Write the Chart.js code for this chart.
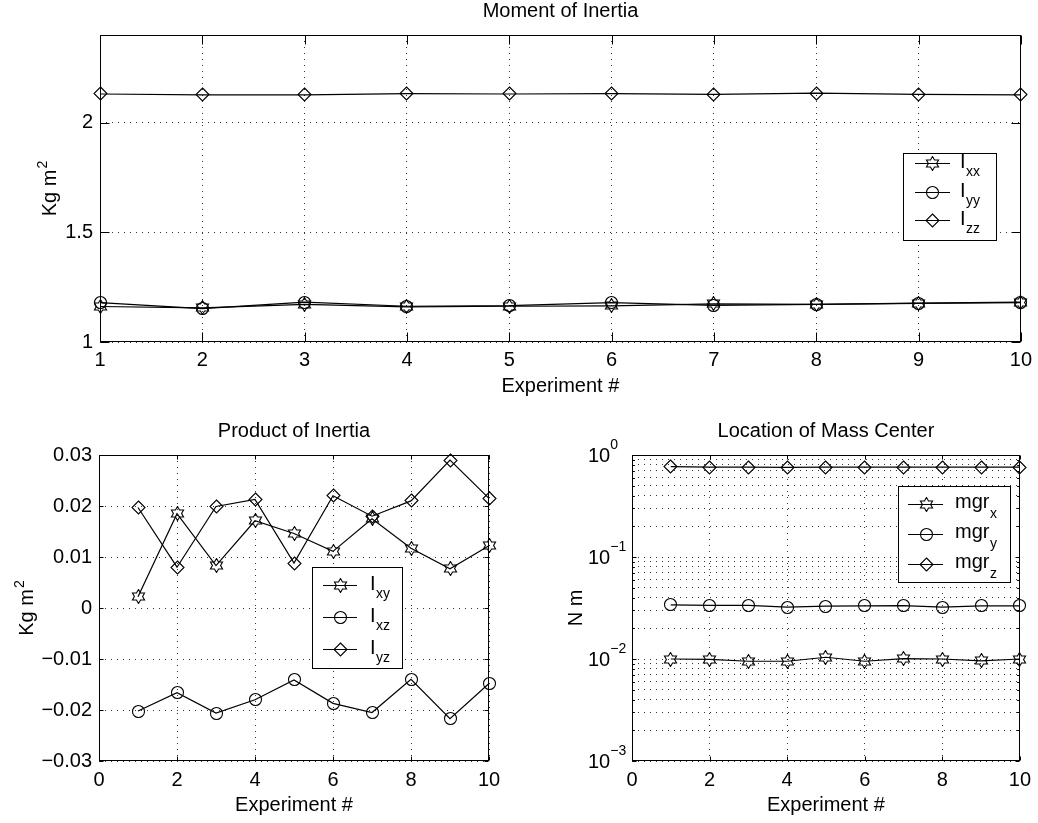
<!DOCTYPE html>
<html>
<head>
<meta charset="utf-8">
<script src="https://cdn.jsdelivr.net/npm/chart.js@4.4.1/dist/chart.umd.min.js"></script>
<style>
html, body { margin: 0; padding: 0; background: #fff; }
#wrap { position: relative; width: 1038px; height: 823px; }
canvas { position: absolute; left: 0; top: 0; }
</style>
</head>
<body>
<div id="wrap">
  <canvas id="inertia" width="1038" height="823"></canvas>
  <canvas id="product" width="1038" height="823"></canvas>
  <canvas id="mass" width="1038" height="823"></canvas>
</div>
<script>
// experiment numbers
const experiments = [1, 2, 3, 4, 5, 6, 7, 8, 9, 10];

// moment of inertia (Kg m^2)
const Ixx = [1.162, 1.156, 1.172, 1.160, 1.163, 1.165, 1.174, 1.172, 1.176, 1.180];
const Iyy = [1.180, 1.152, 1.182, 1.163, 1.166, 1.180, 1.167, 1.172, 1.177, 1.182];
const Izz = [2.131, 2.127, 2.127, 2.133, 2.131, 2.133, 2.129, 2.135, 2.129, 2.127];

// product of inertia (Kg m^2)
const Ixy = [0.0022, 0.0185, 0.0083, 0.0171, 0.0146, 0.0111, 0.0175, 0.0117, 0.0077, 0.0122];
const Ixz = [-0.0202, -0.0166, -0.0206, -0.0180, -0.0141, -0.0187, -0.0205, -0.0140, -0.0217, -0.0148];
const Iyz = [0.0197, 0.0080, 0.0199, 0.0213, 0.0088, 0.0220, 0.0180, 0.0210, 0.0290, 0.0215];

// location of mass center (N m)
const mgrx = [0.0100, 0.0099, 0.0095, 0.0095, 0.0104, 0.0095, 0.0101, 0.0100, 0.0096, 0.0100];
const mgry = [0.0340, 0.0335, 0.0335, 0.0322, 0.0330, 0.0332, 0.0333, 0.0322, 0.0332, 0.0332];
const mgrz = [0.770, 0.760, 0.760, 0.755, 0.760, 0.762, 0.760, 0.762, 0.760, 0.760];

// tick values
const inertiaXTicks = [1, 2, 3, 4, 5, 6, 7, 8, 9, 10];
const inertiaYTicks = [1, 1.5, 2];
const productXTicks = [0, 2, 4, 6, 8, 10];
const productYTicks = [-0.03, -0.02, -0.01, 0, 0.01, 0.02, 0.03];
const massXTicks = [0, 2, 4, 6, 8, 10];
const massDecades = [-3, -2, -1, 0];
const massMinor = [1, 2, 3, 4, 5, 6, 7, 8, 9];

const FAMILY = '"Liberation Sans", Arial, Helvetica, sans-serif';
const F_MAIN = '20px ' + FAMILY;
const F_SMALL = '14px ' + FAMILY;
const GRID = '#333';

// MATLAB-like hollow markers drawn into small canvases
function makeMarker(kind) {
    const c = document.createElement('canvas');
    c.width = 15; c.height = 15;
    const g = c.getContext('2d');
    g.strokeStyle = '#000';
    g.lineWidth = 1.1;
    g.beginPath();
    if (kind === 'hexagram') {
        for (let i = 0; i < 12; i++) {
            const r = i % 2 ? 4.1 : 7;
            const a = -Math.PI / 2 + i * Math.PI / 6;
            const px = 7.5 + r * Math.cos(a), py = 7.5 + r * Math.sin(a);
            if (i) g.lineTo(px, py); else g.moveTo(px, py);
        }
        g.closePath();
    } else if (kind === 'circle') {
        g.arc(7.5, 7.5, 6, 0, 2 * Math.PI);
    } else {
        g.moveTo(7.5, 1); g.lineTo(14, 7.5); g.lineTo(7.5, 14); g.lineTo(1, 7.5);
        g.closePath();
    }
    g.stroke();
    return c;
}
const HEX = makeMarker('hexagram');
const CIRC = makeMarker('circle');
const DIAM = makeMarker('diamond');

const series = (label, sub, values, marker) => ({
    label, sub,
    data: experiments.map((x, i) => ({ x, y: values[i] })),
    borderColor: '#000', backgroundColor: '#000', borderWidth: 1.2,
    pointStyle: marker, pointRadius: 6, pointHoverRadius: 6,
    clip: false, tension: 0, fill: false
});

const fixTicks = list => scale => { scale.ticks = list.map(v => ({ value: v })); };

function axis(type, min, max, tickList, fitSize, horizontal, callback, padding) {
    return {
        type, min, max,
        afterBuildTicks: fixTicks(tickList),
        afterFit: s => { if (horizontal) s.height = fitSize; else s.width = fitSize; },
        grid: { color: GRID, lineWidth: 1, drawTicks: false },
        border: { display: false, dash: [1, 5] },
        ticks: {
            autoSkip: false, maxRotation: 0, padding,
            color: '#000', font: { family: FAMILY, size: 20 },
            callback
        }
    };
}

function line(ctx, x1, y1, x2, y2) {
    ctx.beginPath(); ctx.moveTo(x1, y1); ctx.lineTo(x2, y2); ctx.stroke();
}

// rotated y label with optional superscript
function rotLabel(ctx, x, y, main, sup) {
    ctx.save();
    ctx.translate(x, y);
    ctx.rotate(-Math.PI / 2);
    ctx.textAlign = 'left'; ctx.textBaseline = 'alphabetic';
    ctx.font = F_MAIN; const w1 = ctx.measureText(main).width;
    ctx.font = F_SMALL; const w2 = sup ? ctx.measureText(sup).width + 1 : 0;
    const start = -(w1 + w2) / 2;
    ctx.font = F_MAIN; ctx.fillText(main, start, 0);
    if (sup) { ctx.font = F_SMALL; ctx.fillText(sup, start + w1 + 1, -9); }
    ctx.restore();
}

// box, inward ticks, titles, legend
function decor(cfg) {
    return {
        id: 'decor',
        beforeDatasetsDraw(chart) {
            // keep the marker images crisp
            chart.ctx.imageSmoothingEnabled = false;
        },
        afterDraw(chart) {
            const { ctx, chartArea: a } = chart;
            const xs = chart.scales.x, ys = chart.scales.y;
            ctx.save();
            ctx.imageSmoothingEnabled = false;
            ctx.strokeStyle = '#000'; ctx.fillStyle = '#000'; ctx.lineWidth = 1;
            const L = Math.round(a.left) + 0.5, R = Math.round(a.right) - 0.5;
            const T = Math.round(a.top) + 0.5, B = Math.round(a.bottom) - 0.5;
            ctx.strokeRect(L, T, R - L, B - T);

            xs.ticks.forEach(t => {
                const px = Math.round(xs.getPixelForValue(t.value)) + 0.5;
                line(ctx, px, B, px, B - cfg.tick);
                line(ctx, px, T, px, T + cfg.tick);
            });
            ys.ticks.forEach(t => {
                const py = Math.round(ys.getPixelForValue(t.value)) + 0.5;
                const major = cfg.log ? Math.abs(Math.log10(t.value) - Math.round(Math.log10(t.value))) < 1e-9 : true;
                const len = major ? cfg.tick : cfg.tick * 0.6;
                line(ctx, L, py, L + len, py);
                line(ctx, R, py, R - len, py);
            });

            const cx = (a.left + a.right) / 2;
            ctx.textAlign = 'center'; ctx.textBaseline = 'alphabetic';
            ctx.font = F_MAIN;
            ctx.fillText(cfg.title, cx, a.top - 18);
            ctx.fillText('Experiment #', cx, a.bottom + 50);
            rotLabel(ctx, cfg.yLabelX, (a.top + a.bottom) / 2, cfg.yLabel, cfg.yLabelSup);

            if (cfg.log) {
                ctx.textAlign = 'left';
                massDecades.forEach(e => {
                    const py = ys.getPixelForValue(Math.pow(10, e));
                    ctx.font = F_MAIN;
                    ctx.fillText('10', cfg.logLabelX, py + 7);
                    const w = ctx.measureText('10').width;
                    ctx.font = F_SMALL;
                    ctx.fillText(e === 0 ? '0' : '\u2212' + (-e), cfg.logLabelX + w, py - 6);
                });
            }

            // legend
            const lg = cfg.legend;
            ctx.fillStyle = '#fff';
            ctx.fillRect(lg.box[0], lg.box[1], lg.box[2] - lg.box[0], lg.box[3] - lg.box[1]);
            ctx.strokeRect(lg.box[0] + 0.5, lg.box[1] + 0.5, lg.box[2] - lg.box[0], lg.box[3] - lg.box[1]);
            ctx.fillStyle = '#000';
            ctx.textAlign = 'left';
            chart.data.datasets.forEach((ds, i) => {
                const ry = lg.rows[i] + 0.5;
                line(ctx, lg.line[0], ry, lg.line[1], ry);
                const m = ds.pointStyle;
                ctx.drawImage(m, Math.round(lg.marker - m.width / 2), Math.round(ry - m.height / 2));
                ctx.font = F_MAIN;
                ctx.fillText(ds.label, lg.text, lg.rows[i] + lg.mainDy);
                const w = ctx.measureText(ds.label).width;
                ctx.font = F_SMALL;
                ctx.fillText(ds.sub, lg.text + w + 0.5, lg.rows[i] + lg.subDy);
            });
            ctx.restore();
        }
    };
}

function makeChart(id, datasets, scales, padding, cfg) {
    return new Chart(document.getElementById(id), {
        type: 'line',
        data: { datasets },
        options: {
            responsive: false, animation: false, devicePixelRatio: 1, events: [],
            layout: { padding },
            plugins: { legend: { display: false }, tooltip: { enabled: false }, title: { display: false } },
            scales
        },
        plugins: [decor(cfg)]
    });
}

const numLabel = v => {
    const r = Math.round(v * 1000) / 1000;
    return r < 0 ? '\u2212' + String(-r) : String(r);
};

makeChart('inertia',
    [series('I', 'xx', Ixx, HEX), series('I', 'yy', Iyy, CIRC), series('I', 'zz', Izz, DIAM)],
    {
        x: axis('linear', 1, 10, inertiaXTicks, 40, true, numLabel, 6),
        y: axis('linear', 1, 2.4, inertiaYTicks, 70, false, numLabel, 7)
    },
    { left: 30, right: 17, top: 35, bottom: 441 },
    {
        tick: 9, title: 'Moment of Inertia', yLabel: 'Kg m', yLabelSup: '2', yLabelX: 56,
        legend: { box: [903, 153, 996, 240], line: [915, 950], marker: 932, text: 960, rows: [163, 192, 220], mainDy: 5, subDy: 13 }
    });

makeChart('product',
    [series('I', 'xy', Ixy, HEX), series('I', 'xz', Ixz, CIRC), series('I', 'yz', Iyz, DIAM)],
    {
        x: axis('linear', 0, 10, productXTicks, 40, true, numLabel, 7),
        y: axis('linear', -0.03, 0.03, productYTicks, 70, false, numLabel, 7)
    },
    { left: 29, right: 549, top: 455, bottom: 22 },
    {
        tick: 4, title: 'Product of Inertia', yLabel: 'Kg m', yLabelSup: '2', yLabelX: 33,
        legend: { box: [312, 567, 402, 668], line: [323, 357], marker: 340, text: 370, rows: [585, 617, 649], mainDy: 5, subDy: 13 }
    });

const massYTicks = [];
massDecades.slice(0, -1).forEach(e => massMinor.forEach(m => massYTicks.push(m * Math.pow(10, e))));
massYTicks.push(1);

makeChart('mass',
    [series('mgr', 'x', mgrx, HEX), series('mgr', 'y', mgry, CIRC), series('mgr', 'z', mgrz, DIAM)],
    {
        x: axis('linear', 0, 10, massXTicks, 40, true, numLabel, 7),
        y: axis('logarithmic', 0.001, 1, massYTicks, 40, false, () => '', 7)
    },
    { left: 592, right: 17, top: 455, bottom: 22 },
    {
        tick: 4, log: true, logLabelX: 588, title: 'Location of Mass Center', yLabel: 'N m', yLabelSup: '', yLabelX: 582,
        legend: { box: [898, 486, 1010, 582], line: [908, 943], marker: 926, text: 955, rows: [504, 534, 564], mainDy: 4, subDy: 14 }
    });
</script>
</body>
</html>
